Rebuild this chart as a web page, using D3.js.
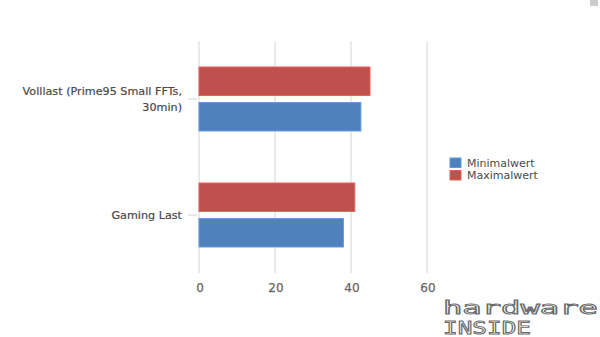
<!DOCTYPE html>
<html><head><meta charset="utf-8">
<script src="https://cdn.jsdelivr.net/npm/d3@7"></script>
<style>body{margin:0;background:#fff}svg{display:block}</style>
</head><body>
<svg id="c" width="600" height="337"></svg>
<script>
const categories = [["Volllast (Prime95 Small FFTs,", "30min)"], ["Gaming Last"]];
const seriesNames = ["Maximalwert", "Minimalwert"];
const maxValues = [45, 41];
const minValues = [42.6, 38];
const xTicks = [0, 20, 40, 60];
const colors = {Minimalwert: "#4f81bd", Maximalwert: "#c0504d"};
const legendOrder = ["Minimalwert", "Maximalwert"];

const svg = d3.select("#c");
const font = "'DejaVu Sans', sans-serif";
const x = d3.scaleLinear().domain([0, 60]).range([199, 427]);
const y = d3.scaleBand().domain(d3.range(categories.length)).range([41, 273]);
const inner = d3.scaleBand().domain(seriesNames).range([26, y.bandwidth() - 26]).paddingInner(0.2);

// gridlines
svg.append("g").selectAll("line").data(xTicks).join("line")
  .attr("x1", d => x(d)).attr("x2", d => x(d)).attr("y1", 41).attr("y2", 273)
  .attr("stroke", "#e3e3e3").attr("stroke-width", 1.5);

// bars
const data = [];
categories.forEach((c, i) => {
  data.push({i, s: "Maximalwert", v: maxValues[i]});
  data.push({i, s: "Minimalwert", v: minValues[i]});
});
svg.append("g").selectAll("rect").data(data).join("rect")
  .attr("x", x(0)).attr("y", d => y(d.i) + inner(d.s))
  .attr("width", d => x(d.v) - x(0)).attr("height", inner.bandwidth())
  .attr("fill", d => colors[d.s])
  .attr("stroke", d => d3.color(colors[d.s]).brighter(0.5)).attr("stroke-width", 1);

// x axis labels
svg.append("g").selectAll("text").data(xTicks).join("text")
  .attr("x", d => x(d) + 1).attr("y", 292).attr("text-anchor", "middle")
  .attr("font-family", font).attr("font-size", 12).attr("fill", "#666")
  .attr("stroke", "#666").attr("stroke-width", 0.25)
  .text(d => d);

// y category labels and ticks
const yl = svg.append("g");
categories.forEach((lines, i) => {
  const cy = y(i) + y.bandwidth() / 2;
  yl.append("line").attr("x1", 188).attr("x2", 197).attr("y1", cy).attr("y2", cy)
    .attr("stroke", "#c9d4e0").attr("stroke-width", 1);
  const t = yl.append("text").attr("text-anchor", "end")
    .attr("font-family", font).attr("font-size", 11.2).attr("fill", "#4a4a4a")
    .attr("stroke", "#4a4a4a").attr("stroke-width", 0.2);
  const lh = 16;
  const start = cy - (lines.length - 1) * lh / 2 + 4;
  lines.forEach((l, k) => {
    t.append("tspan").attr("x", 182).attr("y", start + k * lh).text(l);
  });
});

// legend
const lg = svg.append("g");
legendOrder.forEach((s, k) => {
  const ly = 158 + k * 12.5;
  lg.append("rect").attr("x", 450).attr("y", ly).attr("width", 11).attr("height", 9.5)
    .attr("fill", colors[s]).attr("stroke", d3.color(colors[s]).brighter(0.5));
  lg.append("text").attr("x", 467).attr("y", ly + 8.5)
    .attr("font-family", font).attr("font-size", 11).attr("fill", "#4a4a4a").text(s);
});

// menu icon top-right
[1, 3, 5].forEach(yy => svg.append("line").attr("x1", 590).attr("x2", 598).attr("y1", yy).attr("y2", yy)
  .attr("stroke", "#999").attr("stroke-width", 1));

// watermark
const wm = svg.append("g").attr("font-family", "'DejaVu Sans Mono', monospace").attr("fill", "none")
  .attr("stroke", "#6a6a6a").attr("stroke-width", 0.9);
wm.append("text").attr("x", 443).attr("y", 314).attr("font-size", 17).attr("textLength", 155).attr("lengthAdjust", "spacingAndGlyphs").text("hardware");
wm.append("text").attr("x", 443).attr("y", 334).attr("font-size", 17).attr("textLength", 88).attr("lengthAdjust", "spacingAndGlyphs").text("INSIDE");
</script>
</body></html>
